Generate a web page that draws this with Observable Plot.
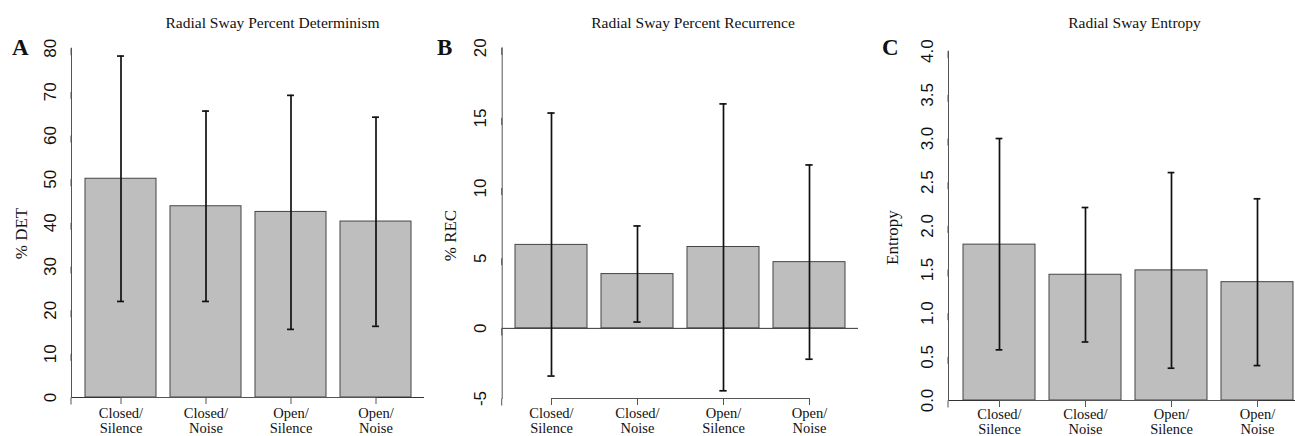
<!DOCTYPE html>
<html>
<head>
<meta charset="utf-8">
<script src="https://cdn.jsdelivr.net/npm/d3@7"></script>
<script src="https://cdn.jsdelivr.net/npm/@observablehq/plot@0.6"></script>
<style>
  body { margin: 0; background: #fff; }
  #wrap { position: relative; width: 1295px; height: 436px; overflow: hidden; background: #fff; }
  .panel { position: absolute; top: 0; }
  .title { position: absolute; font-family: "Liberation Serif", serif; font-size: 15.5px; line-height: 16px;
           white-space: nowrap; transform: translateX(-50%); color: #111; }
  .letter { position: absolute; font-family: "Liberation Serif", serif; font-weight: bold; font-size: 23px;
            line-height: 23px; color: #111; }
</style>
</head>
<body>
<div id="wrap"></div>
<script>
// ---- data ----
const categories = ["Closed/Silence", "Closed/Noise", "Open/Silence", "Open/Noise"];
const xTickLabels = ["Closed/\nSilence", "Closed/\nNoise", "Open/\nSilence", "Open/\nNoise"];

const detMean  = [50.1, 43.8, 42.5, 40.3];
const detLower = [22.0, 22.0, 15.6, 16.3];
const detUpper = [78.2, 65.6, 69.2, 64.2];
const detTicks = [0, 10, 20, 30, 40, 50, 60, 70, 80];

const recMean  = [5.95, 3.87, 5.80, 4.72];
const recLower = [-3.40, 0.45, -4.45, -2.20];
const recUpper = [15.35, 7.30, 16.00, 11.65];
const recTicks = [-5, 0, 5, 10, 15, 20];

const entMean  = [1.785, 1.44, 1.49, 1.355];
const entLower = [0.58, 0.67, 0.37, 0.40];
const entUpper = [3.00, 2.21, 2.61, 2.31];
const entTicks = [0, 0.5, 1.0, 1.5, 2.0, 2.5, 3.0, 3.5, 4.0];

const titles = ["Radial Sway Percent Determinism", "Radial Sway Percent Recurrence", "Radial Sway Entropy"];
const letters = ["A", "B", "C"];
const yLabels = ["% DET", "% REC", "Entropy"];

const SERIF = '"Liberation Serif", "Times New Roman", serif';
const SANS = '"Liberation Sans", Arial, sans-serif';

const wrap = document.getElementById("wrap");

function panel(o) {
  const data = categories.map((c, i) => ({c, m: o.mean[i], lo: o.lower[i], hi: o.upper[i]}));
  const innerW = o.width - o.marginLeft - o.marginRight;
  const pIn = 1 / 6, pOut = 0.1533;
  const step = innerW / (categories.length - pIn + 2 * pOut);
  const bw = step * (1 - pIn);
  const capInset = (bw - 7) / 2;
  const chart = Plot.plot({
    width: o.width,
    height: 436,
    marginLeft: o.marginLeft,
    marginRight: o.marginRight,
    marginTop: o.marginTop,
    marginBottom: o.marginBottom,
    style: {background: "transparent", overflow: "visible"},
    x: {domain: categories, paddingInner: pIn, paddingOuter: pOut, align: 0.5, label: null},
    y: {domain: o.domain, label: null},
    marks: [
      Plot.barY(data, {x: "c", y: "m", fill: "#bebebe", stroke: "#454545", strokeWidth: 1}),
      Plot.ruleY([0], {stroke: "#333", strokeWidth: 1}),
      Plot.ruleX(data, {x: "c", y1: "lo", y2: "hi", stroke: "#111", strokeWidth: 1.7}),
      Plot.tickY(data, {x: "c", y: "hi", insetLeft: capInset, insetRight: capInset, stroke: "#111", strokeWidth: 1.7}),
      Plot.tickY(data, {x: "c", y: "lo", insetLeft: capInset, insetRight: capInset, stroke: "#111", strokeWidth: 1.7}),
      Plot.frame({anchor: "left", stroke: "#555"}),
      Plot.line(categories, {x: d => d, y: () => o.domain[0], stroke: "#555", strokeWidth: 1}),
      Plot.axisY({ticks: o.ticks, tickSize: 7, tickPadding: 9, tickFormat: o.fmt, rotate: -90,
                  textAnchor: "middle", lineAnchor: "bottom", fontFamily: SANS, fontSize: 17,
                  stroke: "#555", fill: "#111", label: null}),
      Plot.axisX({tickSize: 7, tickPadding: o.xPad, tickFormat: d => xTickLabels[categories.indexOf(d)],
                  fontFamily: SERIF, fontSize: 14.5, lineHeight: 1.03, stroke: "#555", fill: "#111", label: null}),
      Plot.text([o.ylabel], {frameAnchor: "left", rotate: -90, dx: o.ylDx, dy: o.ylDy, text: d => d,
                             textAnchor: "middle", lineAnchor: "middle", fontFamily: SERIF, fontSize: 17, fill: "#111"})
    ]
  });
  chart.classList.add("panel");
  chart.style.left = o.left + "px";
  wrap.appendChild(chart);
}

panel({left: 0, width: 430, marginLeft: 71, marginRight: 6, marginTop: 47.7, marginBottom: 39, xPad: 3,
       domain: [0, 80], ticks: detTicks, fmt: d => String(d),
       mean: detMean, lower: detLower, upper: detUpper, ylabel: yLabels[0], ylDx: -49.7, ylDy: 10.7});
panel({left: 430, width: 430, marginLeft: 71.7, marginRight: 2, marginTop: 47.3, marginBottom: 38, xPad: 2,
       domain: [-5, 20], ticks: recTicks, fmt: d => String(d),
       mean: recMean, lower: recLower, upper: recUpper, ylabel: yLabels[1], ylDx: -52, ylDy: 12.4});
panel({left: 860, width: 450, marginLeft: 88, marginRight: 3, marginTop: 50.7, marginBottom: 36, xPad: 1,
       domain: [0, 4], ticks: entTicks, fmt: d => d.toFixed(1),
       mean: entMean, lower: entLower, upper: entUpper, ylabel: yLabels[2], ylDx: -55.5, ylDy: 11.7});

const titleX = [272.5, 693, 1134.5];
titles.forEach((t, i) => {
  const d = document.createElement("div");
  d.className = "title";
  d.textContent = t;
  d.style.left = titleX[i] + "px";
  d.style.top = "15px";
  wrap.appendChild(d);
});
const letterX = [12, 437, 882];
letters.forEach((t, i) => {
  const d = document.createElement("div");
  d.className = "letter";
  d.textContent = t;
  d.style.left = letterX[i] + "px";
  d.style.top = "36px";
  wrap.appendChild(d);
});
</script>
</body>
</html>
